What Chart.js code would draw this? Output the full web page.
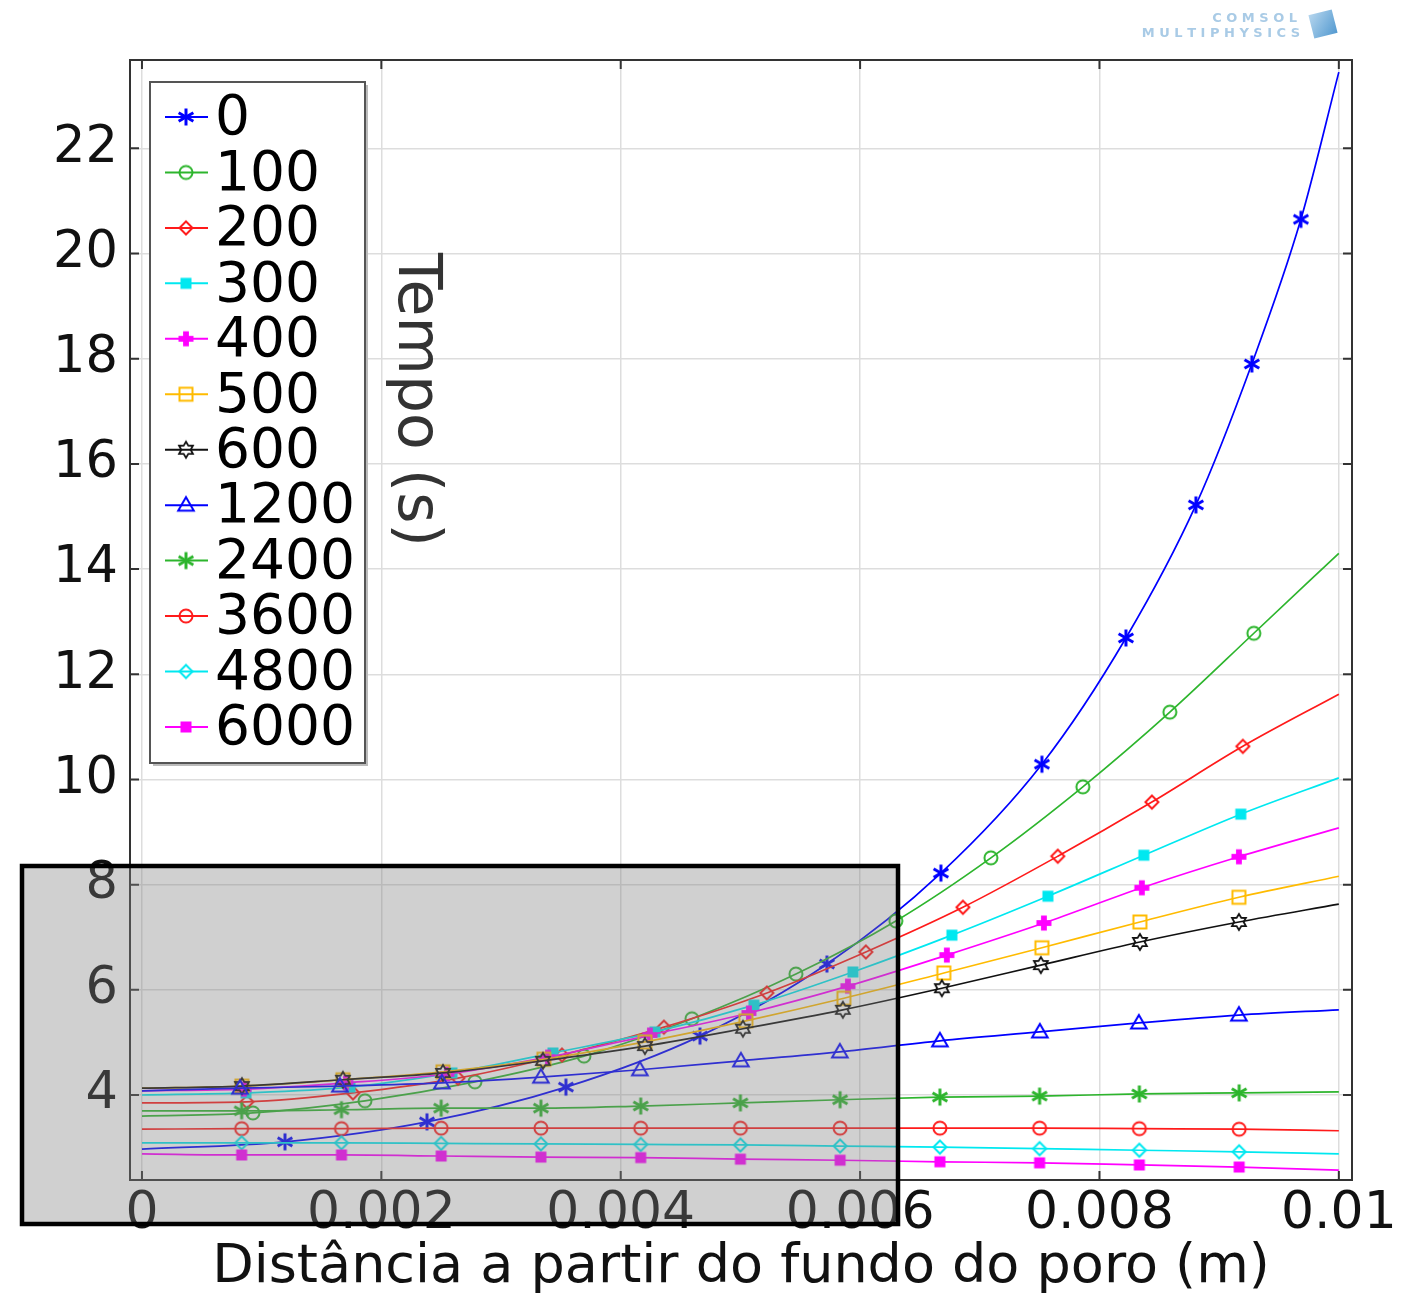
<!DOCTYPE html>
<html>
<head>
<meta charset="utf-8">
<script src="https://cdn.jsdelivr.net/npm/chart.js@4.4.1/dist/chart.umd.min.js"></script>
<style>
  html, body { margin: 0; padding: 0; background: #ffffff; }
  canvas { display: block; }
</style>
</head>
<body>
<canvas id="chart" width="1414" height="1295"></canvas>
<script>
// ---- data: time (s) along the pore, one curve per elapsed time ----
const seriesLabels = ['0', '100', '200', '300', '400', '500', '600', '1200', '2400', '3600', '4800', '6000'];

const t0X    = [0, 0.001195, 0.002381, 0.003542, 0.004662, 0.005723, 0.006675, 0.007519, 0.008221, 0.008806, 0.009273, 0.009683, 0.01];
const t0Y    = [2.97, 3.11, 3.49, 4.15, 5.12, 6.49, 8.22, 10.29, 12.69, 15.22, 17.90, 20.65, 23.45];

const t100X  = [0, 0.000927, 0.001863, 0.002782, 0.003693, 0.004595, 0.005464, 0.006299, 0.007093, 0.007861, 0.008588, 0.00929, 0.01];
const t100Y  = [3.60, 3.66, 3.89, 4.25, 4.74, 5.45, 6.30, 7.31, 8.51, 9.86, 11.28, 12.78, 14.30];

const t200X  = [0, 0.000877, 0.001763, 0.00264, 0.003509, 0.004361, 0.005221, 0.006048, 0.006859, 0.007652, 0.008438, 0.009198, 0.01];
const t200Y  = [3.85, 3.87, 4.04, 4.32, 4.76, 5.29, 5.94, 6.72, 7.57, 8.54, 9.57, 10.63, 11.62];

const t300X  = [0, 0.000869, 0.001738, 0.00259, 0.003434, 0.004286, 0.005113, 0.00594, 0.006767, 0.007569, 0.008371, 0.009181, 0.01];
const t300Y  = [4.00, 4.04, 4.15, 4.42, 4.80, 5.20, 5.71, 6.34, 7.04, 7.78, 8.56, 9.34, 10.03];

const t400X  = [0, 0.000852, 0.001704, 0.002548, 0.003392, 0.004244, 0.005071, 0.005898, 0.006725, 0.007536, 0.008354, 0.009165, 0.01];
const t400Y  = [4.08, 4.11, 4.23, 4.40, 4.72, 5.14, 5.56, 6.07, 6.66, 7.27, 7.94, 8.53, 9.08];

const t500X  = [0, 0.000835, 0.001679, 0.002515, 0.003358, 0.004202, 0.005046, 0.005865, 0.0067, 0.007519, 0.008338, 0.009165, 0.01];
const t500Y  = [4.13, 4.17, 4.29, 4.44, 4.68, 5.01, 5.41, 5.84, 6.32, 6.80, 7.29, 7.76, 8.16];

const t600X  = [0, 0.000835, 0.001679, 0.002515, 0.00335, 0.004202, 0.005021, 0.005856, 0.006683, 0.00751, 0.008338, 0.009165, 0.01];
const t600Y  = [4.13, 4.17, 4.29, 4.42, 4.65, 4.93, 5.26, 5.62, 6.03, 6.47, 6.91, 7.29, 7.63];

const t1200X = [0, 0.000819, 0.001654, 0.002506, 0.003333, 0.00416, 0.005004, 0.005831, 0.006667, 0.007502, 0.008329, 0.009165, 0.01];
const t1200Y = [4.08, 4.13, 4.17, 4.23, 4.34, 4.48, 4.65, 4.82, 5.03, 5.20, 5.37, 5.52, 5.62];

// late curves share evenly spaced sample points
const lateX  = [0, 0.000833, 0.001667, 0.0025, 0.003333, 0.004167, 0.005, 0.005833, 0.006667, 0.0075, 0.008333, 0.009167, 0.01];
const t2400Y = [3.70, 3.70, 3.72, 3.75, 3.75, 3.79, 3.85, 3.91, 3.96, 3.98, 4.02, 4.04, 4.06];
const t3600Y = [3.35, 3.36, 3.36, 3.37, 3.37, 3.37, 3.37, 3.37, 3.37, 3.37, 3.36, 3.35, 3.32];
const t4800Y = [3.09, 3.09, 3.09, 3.08, 3.07, 3.06, 3.05, 3.03, 3.01, 2.98, 2.95, 2.92, 2.88];
const t6000Y = [2.88, 2.86, 2.86, 2.84, 2.82, 2.81, 2.78, 2.76, 2.73, 2.71, 2.67, 2.63, 2.57];

const xTickValues = [0, 0.002, 0.004, 0.006, 0.008, 0.01];
const xTickLabels = ['0', '0.002', '0.004', '0.006', '0.008', '0.01'];
const yTickValues = [4, 6, 8, 10, 12, 14, 16, 18, 20, 22];

const xTitle = 'Distância a partir do fundo do poro (m)';
const yTitle = 'Tempo (s)';

// ---- styles ----
const seriesX = [t0X, t100X, t200X, t300X, t400X, t500X, t600X, t1200X, lateX, lateX, lateX, lateX];
const seriesY = [t0Y, t100Y, t200Y, t300Y, t400Y, t500Y, t600Y, t1200Y, t2400Y, t3600Y, t4800Y, t6000Y];
const seriesColor = ['#0000ff', '#2db52d', '#ff1a1a', '#00e8f0', '#ff00ff', '#ffbb00', '#111111',
                     '#0000ff', '#2db52d', '#ff1a1a', '#00e8f0', '#ff00ff'];
const seriesMarker = ['asterisk', 'circle', 'diamond', 'fsquare', 'fplus', 'osquare', 'hexagram',
                      'triangle', 'asterisk', 'circle', 'diamond', 'fsquare'];

const FONT = '"DejaVu Sans", sans-serif';

function makeMarker(kind, color) {
  const s = 28;
  const c = document.createElement('canvas');
  c.width = s; c.height = s;
  const g = c.getContext('2d');
  g.translate(s / 2, s / 2);
  g.strokeStyle = color;
  g.fillStyle = color;
  g.lineWidth = 2;
  switch (kind) {
    case 'asterisk': {
      g.lineWidth = 3;
      g.lineCap = 'butt';
      const r = 8.5;
      for (const a of [90, 30, -30]) {
        const dx = Math.cos(a * Math.PI / 180) * r, dy = Math.sin(a * Math.PI / 180) * r;
        g.beginPath(); g.moveTo(-dx, -dy); g.lineTo(dx, dy); g.stroke();
      }
      break;
    }
    case 'circle':
      g.beginPath(); g.arc(0, 0, 6.5, 0, Math.PI * 2); g.stroke();
      break;
    case 'diamond':
      g.beginPath(); g.moveTo(0, -6.5); g.lineTo(6.5, 0); g.lineTo(0, 6.5); g.lineTo(-6.5, 0); g.closePath(); g.stroke();
      break;
    case 'fsquare':
      g.fillRect(-5.5, -5.5, 11, 11);
      break;
    case 'fplus':
      g.fillRect(-7.5, -2.9, 15, 5.8);
      g.fillRect(-2.9, -7.5, 5.8, 15);
      break;
    case 'osquare':
      g.strokeRect(-6.5, -6.5, 13, 13);
      break;
    case 'hexagram': {
      g.lineWidth = 1.8;
      g.beginPath();
      for (let i = 0; i < 12; i++) {
        const r = i % 2 === 0 ? 8 : 4.7;
        const a = -Math.PI / 2 + i * Math.PI / 6;
        const px = Math.cos(a) * r, py = Math.sin(a) * r;
        if (i === 0) g.moveTo(px, py); else g.lineTo(px, py);
      }
      g.closePath(); g.stroke();
      break;
    }
    case 'triangle':
      g.beginPath(); g.moveTo(0, -8); g.lineTo(7.8, 5.5); g.lineTo(-7.8, 5.5); g.closePath(); g.stroke();
      break;
  }
  return c;
}

const markerImages = seriesMarker.map((m, i) => makeMarker(m, seriesColor[i]));

const datasets = seriesLabels.map((label, i) => ({
  label: label,
  data: seriesX[i].map((x, j) => ({ x: x, y: seriesY[i][j] })),
  borderColor: seriesColor[i],
  backgroundColor: seriesColor[i],
  borderWidth: 1.7,
  showLine: true,
  fill: false,
  cubicInterpolationMode: 'monotone',
  pointStyle: markerImages[i],
  pointRadius: (c) => (c.dataIndex === 0 || c.dataIndex === seriesX[i].length - 1) ? 0 : 6,
  pointHoverRadius: 0,
  order: -i
}));

// frame on all four sides plus inward tick marks
const framePlugin = {
  id: 'frame',
  afterDraw(chart) {
    const { ctx, chartArea: a, scales } = chart;
    ctx.save();
    ctx.strokeStyle = '#333333';
    ctx.lineWidth = 2;
    ctx.strokeRect(a.left, a.top, a.right - a.left, a.bottom - a.top);
    ctx.beginPath();
    xTickValues.forEach(v => {
      const px = scales.x.getPixelForValue(v);
      ctx.moveTo(px, a.bottom); ctx.lineTo(px, a.bottom - 9);
      ctx.moveTo(px, a.top); ctx.lineTo(px, a.top + 9);
    });
    yTickValues.forEach(v => {
      const py = scales.y.getPixelForValue(v);
      ctx.moveTo(a.left, py); ctx.lineTo(a.left + 9, py);
      ctx.moveTo(a.right, py); ctx.lineTo(a.right - 9, py);
    });
    ctx.stroke();
    ctx.restore();
  }
};

// rotated axis caption drawn inside the plot
const captionPlugin = {
  id: 'caption',
  afterDatasetsDraw(chart) {
    const ctx = chart.ctx;
    ctx.save();
    ctx.translate(399, 400);
    ctx.rotate(Math.PI / 2);
    ctx.font = '60px ' + FONT;
    ctx.fillStyle = '#333333';
    ctx.textAlign = 'center';
    ctx.textBaseline = 'alphabetic';
    ctx.fillText(yTitle, 0, 0);
    ctx.restore();
  }
};

// boxed legend: line sample, marker and label per series
const legendPlugin = {
  id: 'boxLegend',
  afterDraw(chart) {
    const ctx = chart.ctx;
    const bx = 150, by = 82, bw = 215, bh = 681;
    ctx.save();
    ctx.fillStyle = '#bbbbbb';
    ctx.fillRect(bx + 3, by + 3, bw, bh);
    ctx.fillStyle = '#ffffff';
    ctx.fillRect(bx, by, bw, bh);
    ctx.strokeStyle = '#555555';
    ctx.lineWidth = 2;
    ctx.strokeRect(bx, by, bw, bh);
    ctx.font = '55px ' + FONT;
    ctx.textAlign = 'left';
    ctx.textBaseline = 'middle';
    seriesLabels.forEach((label, i) => {
      const y = 117 + i * 55.45;
      ctx.strokeStyle = seriesColor[i];
      ctx.lineWidth = 2;
      ctx.beginPath(); ctx.moveTo(165, y); ctx.lineTo(208, y); ctx.stroke();
      const img = markerImages[i];
      ctx.drawImage(img, 186 - img.width / 2, y - img.height / 2);
      ctx.fillStyle = '#000000';
      ctx.fillText(label, 215, y + 3);
    });
    ctx.restore();
  }
};

// software badge in the top-right corner
const badgePlugin = {
  id: 'badge',
  afterDraw(chart) {
    const ctx = chart.ctx;
    ctx.save();
    ctx.fillStyle = '#a9cbe6';
    ctx.textAlign = 'right';
    ctx.textBaseline = 'alphabetic';
    ctx.font = 'bold 13px ' + FONT;
    ctx.fillText('C O M S O L', 1297, 22);
    ctx.fillText('M U L T I P H Y S I C S', 1300, 37);
    ctx.translate(1323, 24);
    ctx.rotate(-0.25);
    const grd = ctx.createLinearGradient(-13, -13, 13, 13);
    grd.addColorStop(0, '#b9d8ef');
    grd.addColorStop(1, '#4f97cf');
    ctx.fillStyle = grd;
    ctx.fillRect(-12, -12, 24, 24);
    ctx.restore();
  }
};

// translucent grey highlight box over the lower-left region
const shadePlugin = {
  id: 'shade',
  afterDraw(chart) {
    const ctx = chart.ctx;
    ctx.save();
    ctx.fillStyle = 'rgba(128,128,128,0.37)';
    ctx.fillRect(22, 866, 876, 358);
    ctx.strokeStyle = '#000000';
    ctx.lineWidth = 4.5;
    ctx.strokeRect(22, 866, 876, 358);
    ctx.restore();
  }
};

new Chart(document.getElementById('chart'), {
  type: 'scatter',
  data: { datasets: datasets },
  options: {
    responsive: false,
    animation: false,
    devicePixelRatio: 1,
    layout: { padding: { left: 0, right: 62, top: 60, bottom: 0 } },
    plugins: { legend: { display: false }, tooltip: { enabled: false } },
    scales: {
      x: {
        type: 'linear',
        min: -0.0001,
        max: 0.01011,
        afterFit: (s) => { s.height = 115; },
        afterBuildTicks: (s) => { s.ticks = xTickValues.map(v => ({ value: v })); },
        grid: { color: '#dddddd', lineWidth: 1.5, drawTicks: false },
        border: { display: true, color: '#333333', width: 2 },
        ticks: {
          padding: 3,
          color: '#111111',
          font: { family: FONT, size: 52 },
          maxRotation: 0,
          autoSkip: false,
          callback: (v, i) => xTickLabels[i]
        },
        title: {
          display: true,
          text: xTitle,
          color: '#111111',
          font: { family: FONT, size: 54, lineHeight: 1.0 },
          padding: { top: 0, bottom: 0 }
        }
      },
      y: {
        type: 'linear',
        min: 2.384,
        max: 23.68,
        afterFit: (s) => { s.width = 130; },
        afterBuildTicks: (s) => { s.ticks = yTickValues.map(v => ({ value: v })); },
        grid: { color: '#dddddd', lineWidth: 1.5, drawTicks: false },
        border: { display: true, color: '#333333', width: 2 },
        ticks: {
          padding: 12,
          color: '#111111',
          font: { family: FONT, size: 51 },
          autoSkip: false,
          callback: (v) => String(v)
        }
      }
    }
  },
  plugins: [captionPlugin, framePlugin, legendPlugin, badgePlugin, shadePlugin]
});
</script>
</body>
</html>
